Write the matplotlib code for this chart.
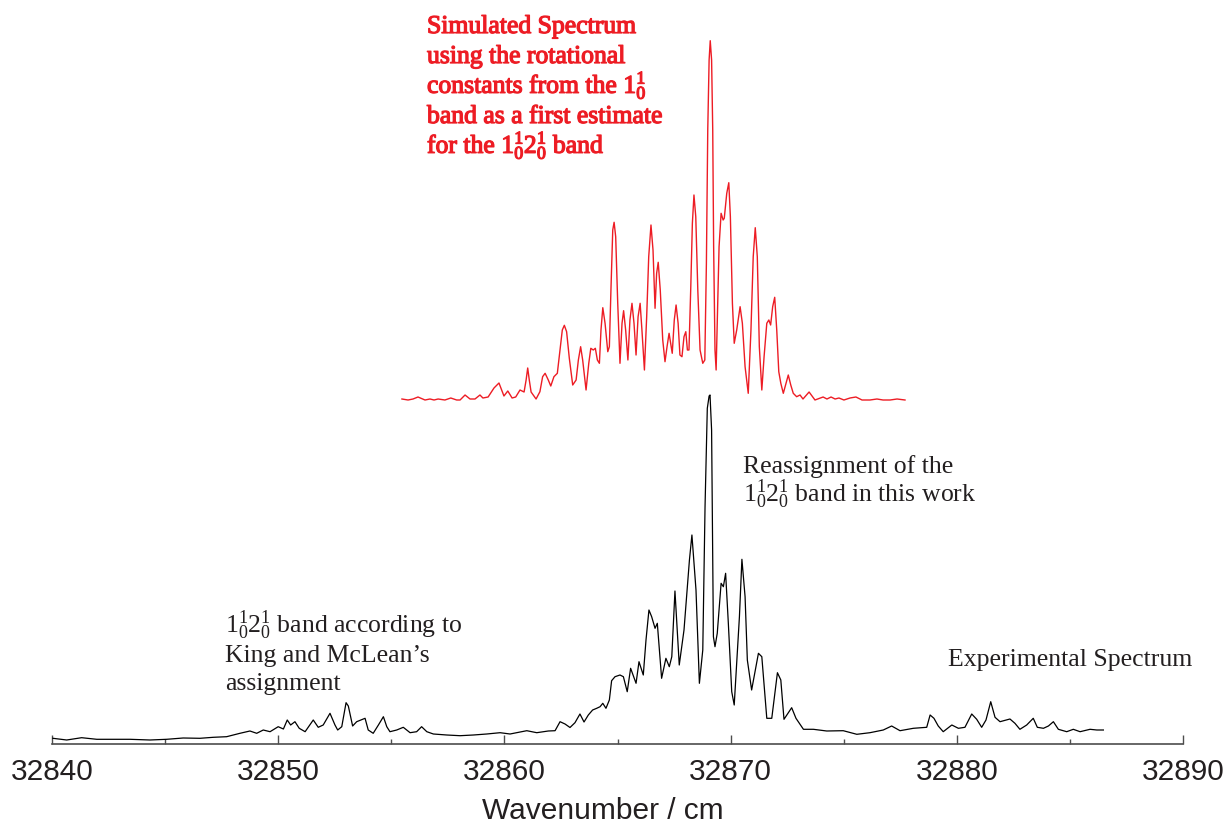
import matplotlib
matplotlib.use("Agg")
import matplotlib.pyplot as plt
import matplotlib.patheffects as pe

# Экспериментальный спектр (волновое число, интенсивность в усл. ед.)
exp_wn = [
    32840.04, 32840.65, 32841.31, 32841.98, 32842.70, 32843.45, 32844.33, 32845.07,
    32845.80, 32846.54, 32847.13, 32847.72, 32848.31, 32848.75, 32849.05, 32849.34,
    32849.64, 32850.00, 32850.23, 32850.40, 32850.55, 32850.74, 32850.93, 32851.19,
    32851.55, 32851.77, 32851.99, 32852.29, 32852.51, 32852.63, 32852.81, 32853.00,
    32853.10, 32853.29, 32853.47, 32853.65, 32853.84, 32853.98, 32854.20, 32854.43,
    32854.65, 32854.80, 32854.94, 32855.24, 32855.53, 32855.83, 32856.12, 32856.34,
    32856.57, 32856.86, 32857.45, 32858.04, 32858.63, 32859.22, 32859.81, 32860.25,
    32860.99, 32861.43, 32861.94, 32862.24, 32862.46, 32862.68, 32862.90, 32863.12,
    32863.34, 32863.52, 32863.71, 32863.90, 32864.08, 32864.23, 32864.35, 32864.49,
    32864.64, 32864.74, 32864.89, 32865.11, 32865.26, 32865.43, 32865.58, 32865.82,
    32865.95, 32866.14, 32866.26, 32866.39, 32866.51, 32866.66, 32866.76, 32866.95,
    32867.14, 32867.29, 32867.40, 32867.54, 32867.73, 32867.94, 32868.18, 32868.29,
    32868.47, 32868.62, 32868.77, 32868.87, 32868.97, 32869.05, 32869.09, 32869.16,
    32869.24, 32869.31, 32869.41, 32869.58, 32869.68, 32869.78, 32869.90, 32870.05,
    32870.16, 32870.39, 32870.50, 32870.64, 32870.74, 32870.93, 32871.23, 32871.38,
    32871.60, 32871.82, 32872.07, 32872.22, 32872.36, 32872.70, 32872.89, 32873.22,
    32873.66, 32874.25, 32874.98, 32875.58, 32876.16, 32876.75, 32877.12, 32877.49,
    32878.08, 32878.67, 32878.82, 32878.99, 32879.18, 32879.40, 32879.78, 32880.07,
    32880.36, 32880.66, 32880.88, 32881.10, 32881.29, 32881.50, 32881.69, 32881.91,
    32882.35, 32882.57, 32882.79, 32883.09, 32883.38, 32883.56, 32883.83, 32884.05,
    32884.27, 32884.49, 32884.86, 32885.15, 32885.45, 32885.89, 32886.19, 32886.48,
]
exp_int = [
    5.7, 4, 6.3, 4.7, 4.7, 4.7, 4, 4.7,
    6, 5.7, 6.7, 7.3, 10.7, 13, 10.7, 14,
    12.3, 17.3, 15, 24, 19, 22.3, 15.7, 12.3,
    24, 16.7, 19, 30.7, 19, 14, 17.3, 41.3,
    38, 18, 22.3, 24, 25.7, 14, 10.7, 19,
    27.3, 17.3, 12.3, 14, 16.7, 11.3, 12.3, 17.3,
    12.3, 10, 9, 8.3, 9, 10, 11.3, 10,
    13.3, 11.3, 13, 13.3, 22.3, 20, 16.5, 21.3,
    30, 22, 29, 34, 35.7, 37.3, 40.7, 35.7,
    44, 63.3, 67.3, 69, 67.3, 52.3, 75.7, 60.7,
    82.3, 69, 104, 134, 127.3, 115.7, 120.7, 65.7,
    85.7, 77.3, 87.3, 153, 79, 114, 184, 209,
    154, 60.7, 94, 237.3, 335.7, 348, 349, 314,
    107.3, 97.3, 110.7, 160.7, 157.3, 170.7, 120.7, 52.3,
    39, 127.3, 184.7, 147.3, 84, 54, 90.7, 87.3,
    25.7, 25.7, 71.3, 64, 24.7, 36.3, 25.7, 14.7,
    14.7, 13, 13.3, 9.7, 11.3, 14, 18, 13.3,
    15.7, 16.7, 29, 25.7, 18, 12.3, 19, 15.7,
    16.7, 30, 24.7, 16.7, 24, 42.3, 26.7, 22.3,
    25, 20.7, 14.7, 19, 25.7, 16.7, 15.7, 18,
    22.3, 14.7, 12.3, 14.7, 12.3, 14.7, 14, 14,
]

# Симулированный спектр (интенсивность от собственной базовой линии)
sim_wn = [
    32855.47, 32855.74, 32855.96, 32856.18, 32856.49, 32856.71, 32856.89, 32857.07,
    32857.37, 32857.63, 32857.89, 32858.04, 32858.26, 32858.48, 32858.70, 32858.92,
    32859.05, 32859.28, 32859.54, 32859.76, 32859.98, 32860.15, 32860.34, 32860.50,
    32860.69, 32860.87, 32860.96, 32861.03, 32861.10, 32861.18, 32861.40,
    32861.57, 32861.69, 32861.80, 32861.94, 32862.05, 32862.19, 32862.34, 32862.46,
    32862.56, 32862.65, 32862.75, 32862.87, 32863.02, 32863.17, 32863.27, 32863.37,
    32863.46, 32863.61, 32863.73, 32863.82, 32863.93, 32864.02, 32864.11, 32864.20,
    32864.27, 32864.35, 32864.45, 32864.57, 32864.64, 32864.71, 32864.79, 32864.85,
    32864.92, 32865.01, 32865.11, 32865.20, 32865.27, 32865.36, 32865.46, 32865.55,
    32865.64, 32865.73, 32865.82, 32865.91, 32866.00, 32866.08, 32866.19, 32866.29,
    32866.38, 32866.48, 32866.57, 32866.66, 32866.73, 32866.80, 32866.89, 32867.00,
    32867.10, 32867.19, 32867.28, 32867.35, 32867.42, 32867.51, 32867.59, 32867.68,
    32867.76, 32867.85, 32867.94, 32868.02, 32868.09, 32868.16, 32868.24, 32868.31,
    32868.38, 32868.46, 32868.55, 32868.65, 32868.77, 32868.86, 32868.93, 32868.99,
    32869.05, 32869.10, 32869.16, 32869.21, 32869.25, 32869.31, 32869.36, 32869.41,
    32869.49, 32869.58, 32869.67, 32869.72, 32869.83, 32869.92, 32869.99, 32870.08,
    32870.16, 32870.27, 32870.42, 32870.52, 32870.64, 32870.78, 32870.90, 32871.00,
    32871.09, 32871.18, 32871.27, 32871.38, 32871.48, 32871.60, 32871.69, 32871.77,
    32871.86, 32871.95, 32872.04, 32872.13, 32872.22, 32872.33, 32872.45, 32872.55,
    32872.66, 32872.77, 32872.92, 32873.07, 32873.20, 32873.47, 32873.73, 32874.09,
    32874.26, 32874.44, 32874.62, 32874.79, 32875.01, 32875.28, 32875.54, 32875.81,
    32876.16, 32876.47, 32876.74, 32877.05, 32877.36, 32877.71,
]
sim_int = [
    1, 0, 1, 3, 0, 1, 0, 1,
    0, 2, 0, 0, 5, 1, 1, 5,
    2, 3, 12, 17, 4, 9, 2, 3,
    10, 8, 20, 32, 20, 8, 1,
    8.3, 23.3, 26.7, 20, 14, 23.3, 26.7, 50,
    70, 74.7, 68.3, 41.7, 15, 20, 40, 53.3,
    40, 10, 36.7, 51.7, 50, 51.7, 40, 36.7,
    70, 92.3, 76.7, 48.3, 53.3, 110, 170, 177.7,
    163.3, 96.7, 36.7, 76.7, 89.3, 70, 40, 80,
    96.7, 76.7, 45, 83.3, 96.7, 70, 30, 83.3,
    143.3, 175, 150, 91.7, 126.7, 137.7, 110, 60,
    38.3, 53.3, 66.7, 56.7, 46.7, 80, 95, 76.7,
    45, 43.3, 63.3, 68.3, 50, 50, 113.3, 176.7,
    205, 183.3, 110, 50, 36.7, 40, 136.7, 270,
    340, 359.3, 340, 270, 153.3, 50, 30, 76.7,
    153.3, 186.7, 180, 181.7, 206.7, 217.3, 183.3, 96.7,
    56.7, 70, 93.3, 76.7, 33.3, 6.7, 70, 143.3,
    172.3, 143.3, 53.3, 10, 43.3, 76.7, 80, 75,
    93.3, 102.7, 70, 28.3, 16.7, 6.7, 16.7, 25,
    15, 6.7, 3.3, 5, 1, 8, 0, 3,
    1, 3, 1, 2, 0, 2, 3, 0,
    0, 1, 0, 0, 1, 0,
]

RED = "#ed1c24"
DARK = "#231f20"
W, H = 1228, 823
SIM_OFFSET = 344

plt.rcParams["mathtext.fontset"] = "custom"
plt.rcParams["mathtext.rm"] = "Liberation Serif"
plt.rcParams["mathtext.bf"] = "Liberation Serif:bold"

fig = plt.figure(figsize=(W / 100, H / 100), dpi=100)
ax = fig.add_axes([52 / W, (H - 744) / H, (1183 - 52) / W, 744 / H])

ax.plot(exp_wn, exp_int, color="black", lw=0.9)
ax.plot(sim_wn, [v + SIM_OFFSET for v in sim_int], color=RED, lw=1.0)

ax.set_xlim(32840, 32890)
ax.set_ylim(0, 744)
for s in ("left", "right", "top"):
    ax.spines[s].set_visible(False)
ax.spines["bottom"].set_color("#4d4d4d")
ax.spines["bottom"].set_linewidth(1.2)
ax.set_yticks([])
ax.set_xticks(range(32840, 32891, 10))
ax.set_xticks(range(32845, 32890, 10), minor=True)
ax.tick_params(axis="x", which="major", direction="in", length=6.5, width=1,
               color="#4d4d4d", pad=10, labelsize=21.5, labelcolor=DARK)
ax.tick_params(axis="x", which="minor", direction="in", length=3.3, width=1,
               color="#4d4d4d")
for lab in ax.get_xticklabels():
    lab.set_fontfamily("Liberation Sans")
ax.set_xlabel("Wavenumber / cm", fontsize=21.5, family="Liberation Sans",
              color=DARK)
ax.xaxis.set_label_coords(0.4867, -0.0712)


def put(x, y, s, **kw):
    # координаты в пикселях исходной картинки, y — базовая линия
    return fig.text(x / W, 1 - y / H, s, va="baseline", ha="left",
                    family="Liberation Serif", fontsize=18.5, **kw)


red_lines = [
    "Simulated Spectrum",
    "using the rotational",
    r"constants from the $\mathrm{1_0^1}$",
    "band as a first estimate",
    r"for the $\mathrm{1_0^12_0^1}$ band",
]
for i, s in enumerate(red_lines):
    t = put(427, 33 + 30 * i, s, color=RED)
    t.set_path_effects([pe.withStroke(linewidth=0.9, foreground=RED)])

put(743, 473, "Reassignment of the", color=DARK)
put(743, 502, r"$\mathrm{1_0^12_0^1}$ band in this work", color=DARK)

put(225, 633, r"$\mathrm{1_0^12_0^1}$ band according to", color=DARK)
put(225, 662, "King and McLean\u2019s", color=DARK)
put(225, 690, "assignment", color=DARK)

put(948, 666, "Experimental Spectrum", color=DARK)

fig.savefig("out.png", dpi=100)
